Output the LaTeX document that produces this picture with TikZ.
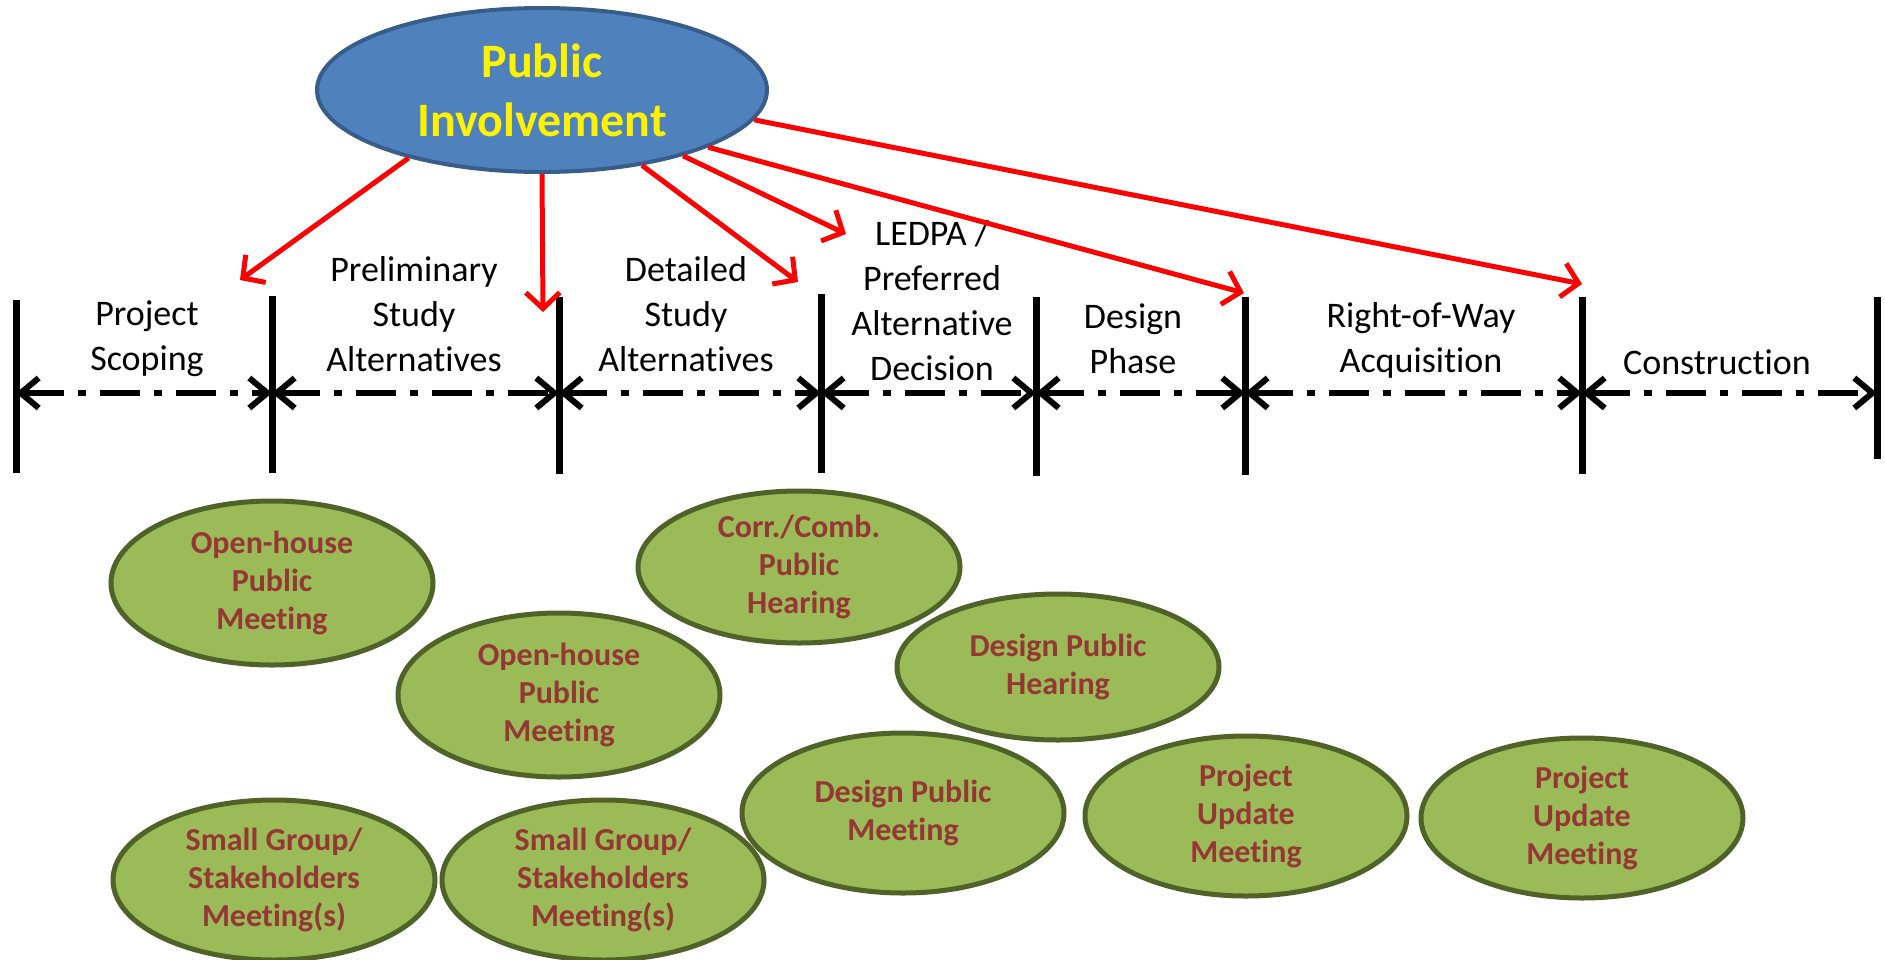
\documentclass[tikz,border=0pt]{standalone}
\usepackage{fontspec}
\setmainfont{Carlito}[Ligatures={NoCommon,NoContextual}]
\usetikzlibrary{shapes.geometric,arrows.meta}
\definecolor{piblue}{HTML}{4F81BD}
\definecolor{piborder}{HTML}{385D8A}
\definecolor{mgreen}{HTML}{9BBB59}
\definecolor{mborder}{HTML}{4F6228}
\definecolor{mtext}{HTML}{953735}
\begin{document}
\begin{tikzpicture}[x=1pt,y=-1pt,
  pinode/.style={ellipse, fill=piblue, draw=piborder, line width=4pt, minimum width=450pt, minimum height=164pt, inner sep=0pt, text=yellow, font=\fontsize{48}{59}\selectfont\bfseries, align=center},
  meet/.style={ellipse, fill=mgreen, draw=mborder, line width=5pt, minimum width=322pt, minimum height=160pt, inner sep=0pt, text=mtext, font=\fontsize{32}{38}\selectfont\bfseries, align=center},
  phase/.style={font=\fontsize{36}{45}\selectfont, align=center, inner sep=0pt},
  bar/.style={line width=7pt},
  span/.style={line width=6pt, dash pattern=on 40pt off 14pt on 8pt off 14pt, {Straight Barb[length=18pt,width=30pt]}-{Straight Barb[length=18pt,width=30pt]}},
  link/.style={red, line width=5pt, -{Straight Barb[length=16pt,width=34pt]}}
]
\useasboundingbox (0,0) rectangle (1885,959);

% timeline
\coordinate (b1) at (16,393);
\coordinate (b2) at (272,393);
\coordinate (b3) at (559,393);
\coordinate (b4) at (821,393);
\coordinate (b5) at (1036,393);
\coordinate (b6) at (1245,393);
\coordinate (b7) at (1582,393);
\coordinate (b8) at (1877,393);
\draw[bar] (b1) ++(0,-93) -- ++(0,173);
\draw[bar] (b2) ++(0,-97) -- ++(0,177);
\draw[bar] (b3) ++(0,-96) -- ++(0,177);
\draw[bar] (b4) ++(0,-99) -- ++(0,179);
\draw[bar] (b5) ++(0,-96) -- ++(0,179);
\draw[bar] (b6) ++(0,-96) -- ++(0,178);
\draw[bar] (b7) ++(0,-96) -- ++(0,177);
\draw[bar] (b8) ++(0,-96) -- ++(0,162);
\draw[span] (b1) -- (b2);
\draw[span] (b2) -- (b3);
\draw[span] (b3) -- (b4);
\draw[span] (b4) -- (b5);
\draw[span] (b5) -- (b6);
\draw[span] (b6) -- (b7);
\draw[span] (b7) -- (b8);

% phase labels
\node[phase] (l1) at (147,339) {Project\\Scoping};
\node[phase] (l2) at (414,314) {Preliminary\\Study\\Alternatives};
\node[phase] (l3) at (686,314) {Detailed\\Study\\Alternatives};
\node[phase] (l4) at (932,301) {LEDPA /\\Preferred\\Alternative\\Decision};
\node[phase] (l5) at (1133,339) {Design\\Phase};
\node[phase] (l6) at (1421,340) {Right-of-Way\\Acquisition};
\node[phase, anchor=base] (l7) at (1717,374) {Construction};

% public involvement
\node[pinode] (pi) at (542,90) {Public\\Involvement};
\coordinate (t1) at (240,280);
\coordinate (t2) at (543,312);
\coordinate (t3) at (798,282);
\coordinate (t4) at (846,234);
\coordinate (t5) at (1244,293);
\coordinate (t6) at (1582,284);
\draw[link] (pi.-153) -- (t1);
\draw[link] (pi.-90) -- (t2);
\draw[link] (pi.-37) -- (t3);
\draw[link] (pi.-25) -- (t4);
\draw[link] (pi.-19) -- (t5);
\draw[link] (pi.-8) -- (t6);

% meetings
\node[meet, minimum height=164pt] (m1) at (272,583) {Open-house\\Public\\Meeting};
\node[meet, minimum height=164pt] (m2) at (559,695) {Open-house\\Public\\Meeting};
\node[meet, minimum height=152pt] (m5) at (799,567) {Corr./Comb.\\Public\\Hearing};
\node[meet, minimum height=146pt] (m6) at (1058,667) {Design Public\\Hearing};
\node[meet] (m3) at (274,880) {Small Group/\\Stakeholders\\Meeting(s)};
\node[meet] (m4) at (603,880) {Small Group/\\Stakeholders\\Meeting(s)};
\node[meet] (m7) at (903,813) {Design Public\\Meeting};
\node[meet] (m8) at (1246,816) {Project\\Update\\Meeting};
\node[meet] (m9) at (1582,818) {Project\\Update\\Meeting};
\end{tikzpicture}
\end{document}
